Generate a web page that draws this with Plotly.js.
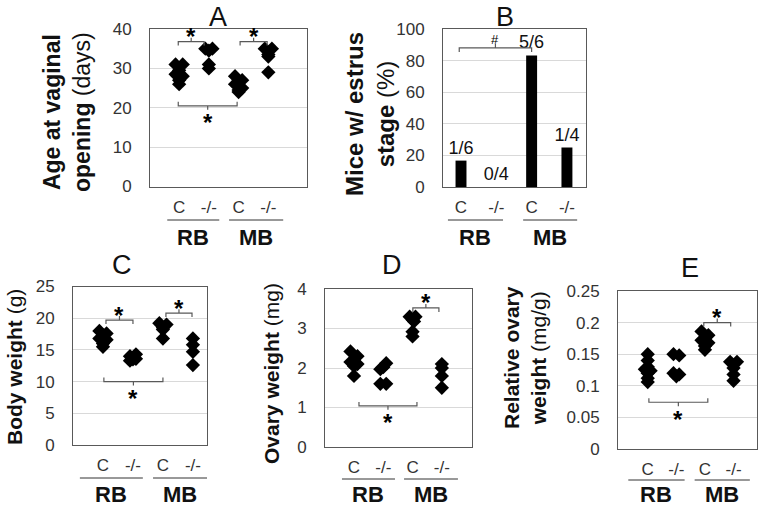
<!DOCTYPE html>
<html>
<head>
<meta charset="utf-8">
<script src="https://cdn.plot.ly/plotly-3.0.1.min.js"></script>
<style>
  html, body { margin: 0; padding: 0; background: #fff; }
  #fig { width: 762px; height: 509px; }
</style>
</head>
<body>
<div id="fig"></div>
<script>
// Category positions and labels (shared by all panels)
const groupPos = [1, 2, 3, 4];
const catLabels = ['C', '-/-', 'C', '-/-'];
const groupNames = ['RB', 'MB'];

// A: age at vaginal opening (days)
const vaginalRBC = [31, 31, 29.5, 28.5, 28, 27, 26];
const vaginalRBKO = [35, 35, 34.5, 31, 30];
const vaginalMBC = [28, 27, 26.5, 26, 25, 24.5, 24];
const vaginalMBKO = [35, 35, 33.5, 33, 29];

// B: mice with estrus stage (%)
const estrusPct = [16.7, 0, 83.3, 25];
const estrusLabels = ['1/6', '0/4', '5/6', '1/4'];

// C: body weight (g)
const bodyRBC = [18, 17.6, 17.3, 16.8, 16.6, 16, 15.5];
const bodyRBKO = [14.3, 14, 13.6, 13.3, 13.5];
const bodyMBC = [19.2, 19, 18.5, 18.2, 16.8];
const bodyMBKO = [16.8, 15.8, 14.7, 12.6];

// D: ovary weight (mg)
const ovaryRBC = [2.42, 2.3, 2.2, 2.15, 2.1, 2.05, 1.8];
const ovaryRBKO = [2.12, 2.02, 1.97, 1.6, 1.6];
const ovaryMBC = [3.3, 3.3, 3.22, 3.18, 2.92, 2.8];
const ovaryMBKO = [2.1, 2.0, 1.8, 1.5];

// E: relative ovary weight (mg/g)
const relRBC = [0.15, 0.14, 0.13, 0.126, 0.124, 0.12, 0.112, 0.106];
const relRBKO = [0.15, 0.148, 0.12, 0.118, 0.115];
const relMBC = [0.186, 0.18, 0.176, 0.172, 0.168, 0.163, 0.157];
const relMBKO = [0.138, 0.138, 0.128, 0.118, 0.108];

// horizontal spread of points inside each group (category units)
const spread7 = [-0.12, 0.12, 0, -0.12, 0.12, 0, 0];
const spread5 = [-0.12, 0.12, 0, 0, 0];
const spread6 = [-0.1, 0.1, 0, 0.05, 0, 0];
const spread4 = [0, 0, 0, 0];
const spread8 = [0, 0, 0, -0.1, 0.1, 0, 0, 0];

// significance brackets: [x from, x to, level, 'top' | 'bottom', mark]
const bracketsA = [[0.97, 1.84, 36.8, 'top', '*'], [3.05, 3.96, 36.8, 'top', '*'], [0.97, 2.95, 20.5, 'bottom', '*']];
const bracketsB = [[0.95, 3.0, 88, 'top', '#']];
const bracketsC = [[1.1, 2.0, 19.7, 'top', '*'], [3.1, 3.97, 20.8, 'top', '*'], [1.03, 3.0, 10, 'bottom', '*']];
const bracketsD = [[3.01, 3.9, 3.52, 'top', '*'], [1.17, 3.15, 1.04, 'bottom', '*']];
const bracketsE = [[2.96, 3.9, 0.2, 'top', '*'], [1.04, 3.1, 0.074, 'bottom', '*']];

const W = 762, H = 509;
const FONT = 'Liberation Sans, Arial, sans-serif';
const fx = p => p / W;
const fy = p => 1 - p / H;

// panel layout in pixels
const panels = [
  {id: '', letter: 'A', box: [150, 307, 29, 186.5], xr: [0.02, 5.3], yr: [0, 40], dt: 10, tick: 1.0,
   title: '<b>Age at vaginal</b><br><b>opening</b> (days)', tsize: 23, tpos: [67, 112], lpos: [218, 17],
   lineY: 220, textY: 237, groupLines: [[0.6, 2.35], [2.68, 4.5]], brackets: bracketsA},
  {id: '2', letter: 'B', box: [443, 586, 29, 187], xr: [0.49, 4.54], yr: [0, 100], dt: 20, tick: 2.5,
   title: '<b>Mice w/ estrus</b><br><b>stage</b> (%)', tsize: 24, tpos: [370, 114], lpos: [505, 17],
   lineY: 220, textY: 237, groupLines: [[0.63, 2.19], [2.76, 4.29]], brackets: bracketsB},
  {id: '3', letter: 'C', box: [73, 207, 286.5, 445], xr: [0, 4.47], yr: [0, 25], dt: 5, tick: 0.63,
   title: '<b>Body weight</b> (g)', tsize: 21, tpos: [14, 367], lpos: [122, 265],
   lineY: 478, textY: 494, groupLines: [[0.23, 2.33], [2.67, 4.47]], brackets: bracketsC},
  {id: '4', letter: 'D', box: [325, 472, 289, 447], xr: [0.01, 5.03], yr: [0, 4], dt: 1, tick: 0.1,
   title: '<b>Ovary weight</b> (mg)', tsize: 21, tpos: [271, 374], lpos: [392, 265],
   lineY: 479, textY: 494, groupLines: [[0.59, 2.4], [2.71, 4.55]], brackets: bracketsD},
  {id: '5', letter: 'E', box: [618, 757, 291, 449], xr: [-0.04, 4.82], yr: [0, 0.25], dt: 0.05, tick: 0.0063,
   title: '<b>Relative ovary</b><br><b>weight</b> (mg/g)', tsize: 21, tpos: [525, 358], lpos: [690, 268],
   lineY: 480, textY: 494, groupLines: [[0.32, 2.29], [2.64, 4.57]], brackets: bracketsE}
];

const dotSets = {
  '': [[vaginalRBC, spread7], [vaginalRBKO, spread5], [vaginalMBC, spread7], [vaginalMBKO, spread5]],
  '3': [[bodyRBC, spread7], [bodyRBKO, [0.1, -0.1, 0.1, -0.1, 0]], [bodyMBC, spread5], [bodyMBKO, spread4]],
  '4': [[ovaryRBC, spread7], [ovaryRBKO, [0.1, 0, -0.1, -0.1, 0.1]], [ovaryMBC, spread6], [ovaryMBKO, spread4]],
  '5': [[relRBC, spread8], [relRBKO, [-0.1, 0.1, -0.1, 0.1, 0]], [relMBC, spread7], [relMBKO, spread5]]
};

const traces = [];
const annotations = [];
const shapes = [];
const layout = {
  width: W, height: H,
  margin: {l: 0, r: 0, t: 0, b: 0},
  paper_bgcolor: '#fff', plot_bgcolor: '#fff',
  showlegend: false,
  font: {family: FONT, color: '#222'}
};

panels.forEach(p => {
  const xa = 'x' + p.id, ya = 'y' + p.id;
  layout['xaxis' + p.id] = {
    domain: [fx(p.box[0]), fx(p.box[1])], range: p.xr, anchor: ya,
    tickvals: groupPos, ticktext: catLabels, ticks: '', ticklabelstandoff: 5,
    tickfont: {size: 17, color: '#333'},
    showgrid: false, zeroline: false, showline: true, mirror: true,
    linecolor: '#595959', linewidth: 1, fixedrange: true
  };
  layout['yaxis' + p.id] = {
    domain: [fy(p.box[3]), fy(p.box[2])], range: p.yr, anchor: xa, dtick: p.dt,
    ticks: '', ticklabelstandoff: 14, tickfont: {size: 17, color: '#333'},
    showgrid: true, gridcolor: '#d9d9d9', gridwidth: 1, zeroline: false,
    showline: true, mirror: true, linecolor: '#595959', linewidth: 1, fixedrange: true
  };

  // dot plots
  (dotSets[p.id] || []).forEach(([vals, jit], g) => {
    traces.push({
      type: 'scatter', mode: 'markers', xaxis: xa, yaxis: ya,
      x: vals.map((v, i) => groupPos[g] + (jit[i] || 0)), y: vals,
      marker: {symbol: 'diamond', size: 11, color: '#000'},
      hoverinfo: 'y'
    });
  });

  // significance brackets
  const bx = [], by = [];
  p.brackets.forEach(([x1, x2, lvl, side, mark]) => {
    const t = p.tick, s = side === 'top' ? 1 : -1, xm = (x1 + x2) / 2;
    bx.push(x1, x1, xm, xm, xm, x2, x2, null);
    by.push(lvl - s * t, lvl, lvl, lvl + s * t, lvl, lvl, lvl - s * t, null);
    annotations.push({
      xref: xa, yref: ya, x: xm, y: lvl, text: mark, showarrow: false,
      yanchor: 'middle', yshift: side === 'top' ? (mark === '#' ? 8 : 5) : -17,
      font: {family: FONT, size: mark === '#' ? 13 : 24, color: '#000', weight: mark === '#' ? 400 : 700}
    });
  });
  traces.push({
    type: 'scatter', mode: 'lines', xaxis: xa, yaxis: ya, x: bx, y: by,
    line: {color: '#595959', width: 1.2}, hoverinfo: 'skip', cliponaxis: false
  });

  // panel letter and y title
  annotations.push({
    xref: 'paper', yref: 'paper', x: fx(p.lpos[0]), y: fy(p.lpos[1]), text: p.letter,
    showarrow: false, xanchor: 'center', yanchor: 'middle',
    font: {family: FONT, size: 27, color: '#111'}
  });
  annotations.push({
    xref: 'paper', yref: 'paper', x: fx(p.tpos[0]), y: fy(p.tpos[1]), text: p.title,
    showarrow: false, textangle: -90, xanchor: 'center', yanchor: 'middle',
    font: {family: FONT, size: p.tsize, color: '#111'}
  });

  // group underlines and names
  p.groupLines.forEach(([a, b], g) => {
    shapes.push({
      type: 'line', xref: xa, yref: 'paper', x0: a, x1: b,
      y0: fy(p.lineY), y1: fy(p.lineY), line: {color: '#333', width: 1}
    });
    annotations.push({
      xref: xa, yref: 'paper', x: (a + b) / 2, y: fy(p.textY), text: '<b>' + groupNames[g] + '</b>',
      showarrow: false, xanchor: 'center', yanchor: 'middle',
      font: {family: FONT, size: 22, color: '#111'}
    });
  });
});

// B: bars with fraction labels
traces.push({
  type: 'bar', xaxis: 'x2', yaxis: 'y2', x: groupPos, y: estrusPct,
  width: 0.31, marker: {color: '#000'},
  text: estrusLabels, textposition: 'outside', cliponaxis: false, constraintext: 'none',
  textfont: {family: FONT, size: 18, color: '#111'}, hoverinfo: 'y'
});

layout.annotations = annotations;
layout.shapes = shapes;

Plotly.newPlot('fig', traces, layout, {staticPlot: true, displayModeBar: false});
</script>
</body>
</html>
